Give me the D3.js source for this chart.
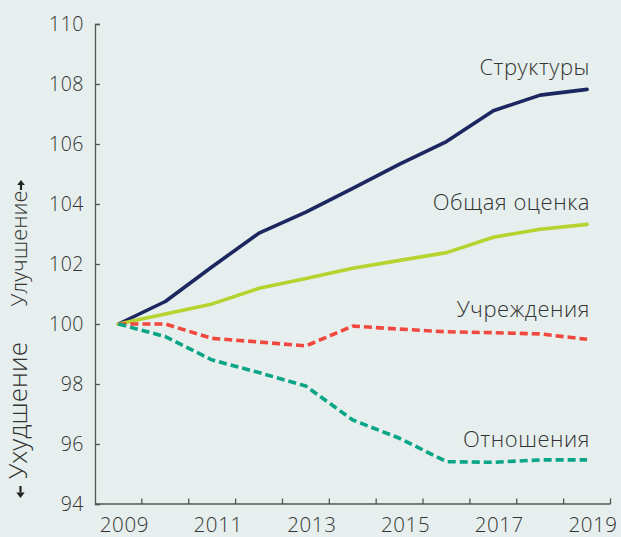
<!DOCTYPE html>
<html>
<head>
<meta charset="utf-8">
<script src="https://cdn.jsdelivr.net/npm/d3@7"></script>
<style>
  html, body { margin: 0; padding: 0; background: #e6efed; }
  svg { display: block; font-family: "Open Sans", Lato, sans-serif; font-weight: 300; }
</style>
</head>
<body>
<svg id="chart" width="621" height="537"></svg>
<script>
// Index values, 2009 = 100
const years = [2009, 2010, 2011, 2012, 2013, 2014, 2015, 2016, 2017, 2018, 2019];
const structures   = [100, 100.75, 101.91, 103.03, 103.73, 104.52, 105.33, 106.08, 107.11, 107.63, 107.82];
const overall      = [100, 100.33, 100.67, 101.19, 101.52, 101.86, 102.12, 102.38, 102.89, 103.16, 103.32];
const institutions = [100, 100.0, 99.52, 99.40, 99.27, 99.93, 99.83, 99.74, 99.71, 99.67, 99.49];
const relations    = [100, 99.58, 98.80, 98.38, 97.93, 96.80, 96.19, 95.41, 95.39, 95.47, 95.47];
const yTicks = [94, 96, 98, 100, 102, 104, 106, 108, 110];
const xLabelYears = [2009, 2011, 2013, 2015, 2017, 2019];

const series = [
  { name: "Структуры",    values: structures,   color: "#1c2660", dash: null,  labelY: 75 },
  { name: "Общая оценка", values: overall,      color: "#b6d330", dash: null,  labelY: 210 },
  { name: "Учреждения",   values: institutions, color: "#f0483f", dash: "8,4", labelY: 317 },
  { name: "Отношения",    values: relations,    color: "#0aa586", dash: "8,4", labelY: 447 }
];

const svg = d3.select("#chart");
const textColor = "#333";
const axisColor = "#555";

const x = d3.scaleBand().domain(years).range([95, 610.5]).padding(0);
const xc = d => x(d) + x.bandwidth() / 2;
const y = d3.scaleLinear().domain([94, 110]).range([504, 24]);

// Y axis: ticks point into the plot
const yAxis = svg.append("g").attr("transform", "translate(95,0)")
  .call(d3.axisLeft(y).tickValues(yTicks).tickSizeInner(-5).tickSizeOuter(-5).tickPadding(11).tickFormat(d3.format("d")));
yAxis.select(".domain").attr("stroke", axisColor).attr("stroke-width", 1.3);
yAxis.selectAll(".tick line").attr("stroke", axisColor).attr("stroke-width", 1.3);
yAxis.selectAll(".tick text").attr("fill", textColor).attr("font-size", 19.5)
  .attr("letter-spacing", 0.5)
  .attr("font-family", "'Open Sans', sans-serif").attr("font-weight", 300);

// X axis: band boundaries as ticks, year labels every other year
const xAxis = svg.append("g").attr("transform", "translate(0,504)");
xAxis.append("line").attr("x1", 95).attr("x2", 610.5).attr("y1", 0).attr("y2", 0)
  .attr("stroke", axisColor).attr("stroke-width", 1.3);
xAxis.selectAll("line.tick").data(years).enter().append("line").attr("class", "tick")
  .attr("x1", d => x(d) + x.bandwidth()).attr("x2", d => x(d) + x.bandwidth())
  .attr("y1", 0).attr("y2", -5.5).attr("stroke", axisColor).attr("stroke-width", 1.3);
xAxis.selectAll("text").data(xLabelYears).enter().append("text")
  .attr("x", d => xc(d) + 6).attr("y", 27.5)
  .attr("text-anchor", "middle").attr("fill", textColor).attr("font-size", 20.5)
  .attr("letter-spacing", 0.6)
  .text(d => d);

// Series lines
const line = d3.line().x((d, i) => xc(years[i])).y(d => y(d));
series.forEach(s => {
  svg.append("path").datum(s.values)
    .attr("d", line)
    .attr("fill", "none")
    .attr("stroke", s.color)
    .attr("stroke-width", 3.6)
    .attr("stroke-linejoin", "round")
    .attr("stroke-linecap", s.dash ? "butt" : "round")
    .attr("stroke-dasharray", s.dash);
  svg.append("text")
    .attr("x", 590).attr("y", s.labelY)
    .attr("text-anchor", "end").attr("fill", textColor).attr("font-size", 22)
    .attr("letter-spacing", 0.55)
    .text(s.name);
});

// Rotated axis title with direction arrows
const t = svg.append("g").attr("transform", "translate(27,0) rotate(-90)");
const up = t.append("text").attr("x", -306.5).attr("y", 0).attr("text-anchor", "start")
  .attr("fill", textColor).attr("font-size", 20).text("Улучшение");
// size the upper title to its span, the lower one slightly larger
const upSize = 20 * 116 / up.node().getComputedTextLength();
up.attr("font-size", upSize);
t.append("text").attr("x", -479).attr("y", 0).attr("text-anchor", "start")
  .attr("fill", textColor).attr("font-size", upSize * 1.2).text("Ухудшение");
function arrow(x0, dir, cy, len, head, half) {
  // dir: +1 points along reading direction, -1 against
  const tip = x0 + dir * len;
  t.append("line").attr("x1", x0).attr("x2", tip - dir * head).attr("y1", cy).attr("y2", cy)
    .attr("stroke", "#222").attr("stroke-width", 2.2);
  t.append("path")
    .attr("d", `M${tip},${cy} L${tip - dir * head},${cy - half} L${tip - dir * head},${cy + half} Z`)
    .attr("fill", "#222");
}
arrow(-190, 1, -6, 10, 5, 3.8);
arrow(-486, -1, -6.5, 12, 5.5, 4.2);
</script>
</body>
</html>
